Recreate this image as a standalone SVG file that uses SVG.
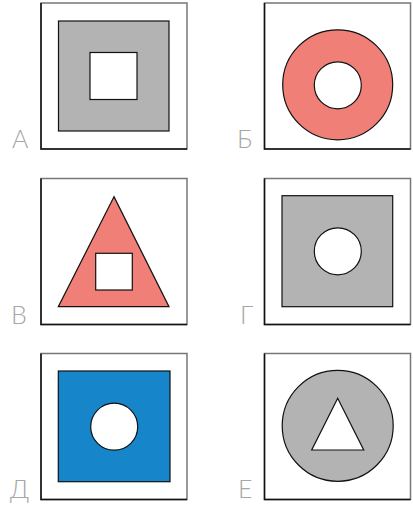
<svg xmlns="http://www.w3.org/2000/svg" width="413" height="505" viewBox="0 0 413 505">
<style>
.frame{fill:#fff;stroke:#777;stroke-width:1.5}
.frameLB{fill:none;stroke:#111;stroke-width:1.5}
.gray{fill:#b3b3b3;stroke:#111;stroke-width:1.2}
.red{fill:#f07f78;stroke:#111;stroke-width:1.2}
.blue{fill:#1785c9;stroke:#111;stroke-width:1.2}
.hole{fill:#fff;stroke:#111;stroke-width:1.2}
.lbl{font-family:Lato,"Open Sans","DejaVu Sans",sans-serif;font-weight:300;font-size:25px;fill:#a6a6a6}
</style>
<rect width="413" height="505" fill="#fff"/>
<g id="panel-A">
<rect class="frame" x="41" y="3" width="146" height="146"/>
<polyline class="frameLB" points="41,3 41,149 187,149"/>
<rect class="gray" x="58.5" y="21" width="110.5" height="110"/>
<rect class="hole" x="90" y="52.5" width="47" height="47"/>
<text class="lbl" x="12" y="148">А</text>
</g>
<g id="panel-B">
<rect class="frame" x="264.5" y="3" width="146" height="146"/>
<polyline class="frameLB" points="264.5,3 264.5,149 410.5,149"/>
<circle class="red" cx="337.7" cy="84.8" r="55"/>
<circle class="hole" cx="337.8" cy="85.3" r="23.5"/>
<text class="lbl" x="237" y="148">Б</text>
</g>
<g id="panel-V">
<rect class="frame" x="41" y="178.5" width="146" height="146"/>
<polyline class="frameLB" points="41,178.5 41,324.5 187,324.5"/>
<polygon class="red" points="114,196.7 58.3,306.7 169,306.7"/>
<rect class="hole" x="95.7" y="253.3" width="36.6" height="36.7"/>
<text class="lbl" x="11" y="324">В</text>
</g>
<g id="panel-G">
<rect class="frame" x="264.5" y="178.5" width="146" height="146"/>
<polyline class="frameLB" points="264.5,178.5 264.5,324.5 410.5,324.5"/>
<rect class="gray" x="282" y="195.7" width="110.7" height="111"/>
<circle class="hole" cx="337.8" cy="251.3" r="23.5"/>
<text class="lbl" x="240" y="324">Г</text>
</g>
<g id="panel-D">
<rect class="frame" x="41" y="353.5" width="146" height="146"/>
<polyline class="frameLB" points="41,353.5 41,499.5 187,499.5"/>
<rect class="blue" x="58.3" y="371" width="111.7" height="110.7"/>
<circle class="hole" cx="114.2" cy="426.7" r="23.5"/>
<text class="lbl" x="10" y="498">Д</text>
</g>
<g id="panel-E">
<rect class="frame" x="264.5" y="353.5" width="146" height="146"/>
<polyline class="frameLB" points="264.5,353.5 264.5,499.5 410.5,499.5"/>
<circle class="gray" cx="337.7" cy="425.8" r="55.5"/>
<polygon class="hole" points="337.7,398.3 311.7,450 363.7,450"/>
<text class="lbl" x="238" y="498">Е</text>
</g>
<g id="connectors"></g>
</svg>
